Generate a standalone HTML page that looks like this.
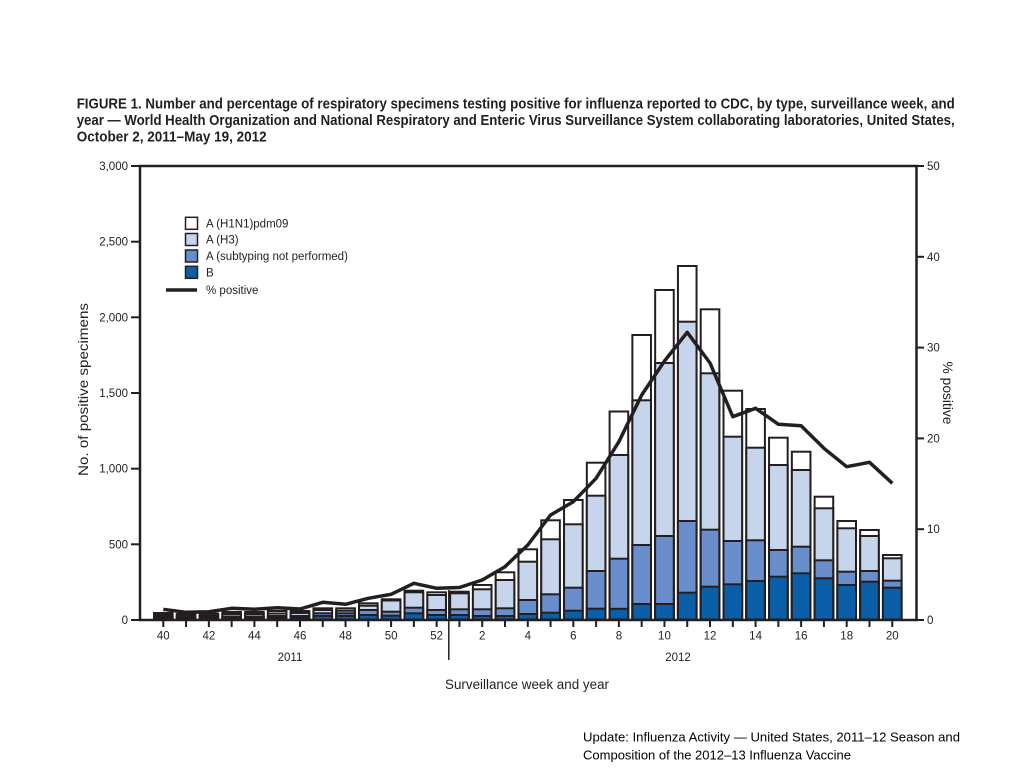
<!DOCTYPE html>
<html>
<head>
<meta charset="utf-8">
<style>
html,body{margin:0;padding:0;background:#fff;}
svg{display:block;}
text{font-family:"Liberation Sans",Arial,sans-serif;fill:#231f20;}
.w{fill:#fff;stroke:#231f20;stroke-width:2;}
.h{fill:#c6d4ec;stroke:#231f20;stroke-width:2;}
.s{fill:#6a8ecb;stroke:#231f20;stroke-width:2;}
.b{fill:#0a5fa8;stroke:#231f20;stroke-width:2;}
.t{font-size:11.5px;}
</style>
</head>
<body>
<svg width="1024" height="768" viewBox="0 0 1024 768" xmlns="http://www.w3.org/2000/svg">
<rect x="0" y="0" width="1024" height="768" fill="#fff"/>

<!-- Title -->
<text x="76.7" y="108.5" font-size="15" font-weight="bold" textLength="878" lengthAdjust="spacingAndGlyphs">FIGURE 1. Number and percentage of respiratory specimens testing positive for influenza reported to CDC, by type, surveillance week, and</text>
<text x="76.7" y="125" font-size="15" font-weight="bold" textLength="878" lengthAdjust="spacingAndGlyphs">year — World Health Organization and National Respiratory and Enteric Virus Surveillance System collaborating laboratories, United States,</text>
<text x="76.7" y="141.5" font-size="15" font-weight="bold" textLength="190" lengthAdjust="spacingAndGlyphs">October 2, 2011–May 19, 2012</text>

<!-- Bars -->
<g>
<rect class="w" x="154.0" y="613" width="18.6" height="6.5"/><rect class="h" x="154.0" y="615" width="18.6" height="4.5"/><rect class="s" x="154.0" y="617" width="18.6" height="2.5"/><rect class="b" x="154.0" y="618" width="18.6" height="1.5"/>
<rect class="w" x="176.78" y="614" width="18.6" height="5.5"/><rect class="h" x="176.78" y="615.5" width="18.6" height="4"/><rect class="s" x="176.78" y="617" width="18.6" height="2.5"/><rect class="b" x="176.78" y="618.3" width="18.6" height="1.2"/>
<rect class="w" x="199.56" y="613.5" width="18.6" height="6"/><rect class="h" x="199.56" y="615.5" width="18.6" height="4"/><rect class="s" x="199.56" y="617" width="18.6" height="2.5"/><rect class="b" x="199.56" y="618.3" width="18.6" height="1.2"/>
<rect class="w" x="222.34" y="612" width="18.6" height="7.5"/><rect class="h" x="222.34" y="614" width="18.6" height="5.5"/><rect class="s" x="222.34" y="616.5" width="18.6" height="3"/><rect class="b" x="222.34" y="618" width="18.6" height="1.5"/>
<rect class="w" x="245.12" y="612" width="18.6" height="7.5"/><rect class="h" x="245.12" y="614" width="18.6" height="5.5"/><rect class="s" x="245.12" y="616.5" width="18.6" height="3"/><rect class="b" x="245.12" y="618" width="18.6" height="1.5"/>
<rect class="w" x="267.9" y="611" width="18.6" height="8.5"/><rect class="h" x="267.9" y="613.5" width="18.6" height="6"/><rect class="s" x="267.9" y="616" width="18.6" height="3.5"/><rect class="b" x="267.9" y="618" width="18.6" height="1.5"/>
<rect class="w" x="290.68" y="611" width="18.6" height="8.5"/><rect class="h" x="290.68" y="613" width="18.6" height="6.5"/><rect class="s" x="290.68" y="616" width="18.6" height="3.5"/><rect class="b" x="290.68" y="618" width="18.6" height="1.5"/>
<rect class="w" x="313.46" y="608.3" width="18.6" height="11.2"/><rect class="h" x="313.46" y="610" width="18.6" height="9.5"/><rect class="s" x="313.46" y="613.3" width="18.6" height="6.2"/><rect class="b" x="313.46" y="616" width="18.6" height="3.5"/>
<rect class="w" x="336.24" y="608.3" width="18.6" height="11.2"/><rect class="h" x="336.24" y="610.7" width="18.6" height="8.8"/><rect class="s" x="336.24" y="613.3" width="18.6" height="6.2"/><rect class="b" x="336.24" y="616" width="18.6" height="3.5"/>
<rect class="w" x="359.02" y="603.3" width="18.6" height="16.2"/><rect class="h" x="359.02" y="605.7" width="18.6" height="13.8"/><rect class="s" x="359.02" y="610" width="18.6" height="9.5"/><rect class="b" x="359.02" y="615" width="18.6" height="4.5"/>
<rect class="w" x="381.8" y="599.3" width="18.6" height="20.2"/><rect class="h" x="381.8" y="600.5" width="18.6" height="19"/><rect class="s" x="381.8" y="611.7" width="18.6" height="7.8"/><rect class="b" x="381.8" y="615.7" width="18.6" height="3.8"/>
<rect class="w" x="404.58" y="590.7" width="18.6" height="28.8"/><rect class="h" x="404.58" y="592.3" width="18.6" height="27.2"/><rect class="s" x="404.58" y="607.7" width="18.6" height="11.8"/><rect class="b" x="404.58" y="613.3" width="18.6" height="6.2"/>
<rect class="w" x="427.36" y="592.3" width="18.6" height="27.2"/><rect class="h" x="427.36" y="595" width="18.6" height="24.5"/><rect class="s" x="427.36" y="610" width="18.6" height="9.5"/><rect class="b" x="427.36" y="615" width="18.6" height="4.5"/>
<rect class="w" x="450.14" y="591.7" width="18.6" height="27.8"/><rect class="h" x="450.14" y="593.3" width="18.6" height="26.2"/><rect class="s" x="450.14" y="609.3" width="18.6" height="10.2"/><rect class="b" x="450.14" y="615" width="18.6" height="4.5"/>
<rect class="w" x="472.92" y="585" width="18.6" height="34.5"/><rect class="h" x="472.92" y="589.3" width="18.6" height="30.2"/><rect class="s" x="472.92" y="609.3" width="18.6" height="10.2"/><rect class="b" x="472.92" y="616" width="18.6" height="3.5"/>
<rect class="w" x="495.7" y="572.3" width="18.6" height="47.2"/><rect class="h" x="495.7" y="580" width="18.6" height="39.5"/><rect class="s" x="495.7" y="608.3" width="18.6" height="11.2"/><rect class="b" x="495.7" y="616" width="18.6" height="3.5"/>
<rect class="w" x="518.48" y="549.3" width="18.6" height="70.2"/><rect class="h" x="518.48" y="561.7" width="18.6" height="57.8"/><rect class="s" x="518.48" y="600" width="18.6" height="19.5"/><rect class="b" x="518.48" y="614" width="18.6" height="5.5"/>
<rect class="w" x="541.26" y="520.3" width="18.6" height="99.2"/><rect class="h" x="541.26" y="539.3" width="18.6" height="80.2"/><rect class="s" x="541.26" y="594.3" width="18.6" height="25.2"/><rect class="b" x="541.26" y="612.7" width="18.6" height="6.8"/>
<rect class="w" x="564.04" y="500" width="18.6" height="119.5"/><rect class="h" x="564.04" y="524.3" width="18.6" height="95.2"/><rect class="s" x="564.04" y="587.7" width="18.6" height="31.8"/><rect class="b" x="564.04" y="610.7" width="18.6" height="8.8"/>
<rect class="w" x="586.82" y="462.7" width="18.6" height="156.8"/><rect class="h" x="586.82" y="495.7" width="18.6" height="123.8"/><rect class="s" x="586.82" y="571" width="18.6" height="48.5"/><rect class="b" x="586.82" y="608.7" width="18.6" height="10.8"/>
<rect class="w" x="609.6" y="411.5" width="18.6" height="208"/><rect class="h" x="609.6" y="455" width="18.6" height="164.5"/><rect class="s" x="609.6" y="558.7" width="18.6" height="60.8"/><rect class="b" x="609.6" y="608.8" width="18.6" height="10.7"/>
<rect class="w" x="632.38" y="335" width="18.6" height="284.5"/><rect class="h" x="632.38" y="400.3" width="18.6" height="219.2"/><rect class="s" x="632.38" y="545" width="18.6" height="74.5"/><rect class="b" x="632.38" y="604" width="18.6" height="15.5"/>
<rect class="w" x="655.16" y="290" width="18.6" height="329.5"/><rect class="h" x="655.16" y="363" width="18.6" height="256.5"/><rect class="s" x="655.16" y="536" width="18.6" height="83.5"/><rect class="b" x="655.16" y="604" width="18.6" height="15.5"/>
<rect class="w" x="677.94" y="266" width="18.6" height="353.5"/><rect class="h" x="677.94" y="321.7" width="18.6" height="297.8"/><rect class="s" x="677.94" y="521" width="18.6" height="98.5"/><rect class="b" x="677.94" y="592.7" width="18.6" height="26.8"/>
<rect class="w" x="700.72" y="309.3" width="18.6" height="310.2"/><rect class="h" x="700.72" y="373.3" width="18.6" height="246.2"/><rect class="s" x="700.72" y="529.7" width="18.6" height="89.8"/><rect class="b" x="700.72" y="586.7" width="18.6" height="32.8"/>
<rect class="w" x="723.5" y="390.7" width="18.6" height="228.8"/><rect class="h" x="723.5" y="436.7" width="18.6" height="182.8"/><rect class="s" x="723.5" y="541" width="18.6" height="78.5"/><rect class="b" x="723.5" y="584.3" width="18.6" height="35.2"/>
<rect class="w" x="746.28" y="409" width="18.6" height="210.5"/><rect class="h" x="746.28" y="447.7" width="18.6" height="171.8"/><rect class="s" x="746.28" y="540.3" width="18.6" height="79.2"/><rect class="b" x="746.28" y="581" width="18.6" height="38.5"/>
<rect class="w" x="769.06" y="437.7" width="18.6" height="181.8"/><rect class="h" x="769.06" y="465" width="18.6" height="154.5"/><rect class="s" x="769.06" y="550" width="18.6" height="69.5"/><rect class="b" x="769.06" y="576.7" width="18.6" height="42.8"/>
<rect class="w" x="791.84" y="451.7" width="18.6" height="167.8"/><rect class="h" x="791.84" y="470" width="18.6" height="149.5"/><rect class="s" x="791.84" y="546.7" width="18.6" height="72.8"/><rect class="b" x="791.84" y="573.3" width="18.6" height="46.2"/>
<rect class="w" x="814.62" y="496.7" width="18.6" height="122.8"/><rect class="h" x="814.62" y="508.3" width="18.6" height="111.2"/><rect class="s" x="814.62" y="560.3" width="18.6" height="59.2"/><rect class="b" x="814.62" y="578.3" width="18.6" height="41.2"/>
<rect class="w" x="837.4" y="521" width="18.6" height="98.5"/><rect class="h" x="837.4" y="528.3" width="18.6" height="91.2"/><rect class="s" x="837.4" y="571.7" width="18.6" height="47.8"/><rect class="b" x="837.4" y="585" width="18.6" height="34.5"/>
<rect class="w" x="860.18" y="530" width="18.6" height="89.5"/><rect class="h" x="860.18" y="536" width="18.6" height="83.5"/><rect class="s" x="860.18" y="571" width="18.6" height="48.5"/><rect class="b" x="860.18" y="581.7" width="18.6" height="37.8"/>
<rect class="w" x="882.96" y="555" width="18.6" height="64.5"/><rect class="h" x="882.96" y="558.3" width="18.6" height="61.2"/><rect class="s" x="882.96" y="580.7" width="18.6" height="38.8"/><rect class="b" x="882.96" y="587.7" width="18.6" height="31.8"/>
</g>

<!-- % positive line -->
<polyline fill="none" stroke="#231f20" stroke-width="3.5" stroke-linejoin="round" points="163.3,609.3 186.1,612.3 208.9,611.7 231.6,608.3 254.4,609.3 277.2,607.7 300,609 322.8,602.3 345.5,604.3 368.3,598.3 391.1,594.3 413.9,583.3 436.7,588.3 459.4,587.5 482.2,580 505,566.7 527.8,545 550.6,515 573.3,501.7 596.1,478.3 618.9,441.7 641.7,395 664.5,361 687.2,332.3 710,363 732.8,416.7 755.6,408.3 778.4,424.3 801.1,425.7 823.9,448.3 846.7,466.7 869.5,462.3 892.3,483.3"/>

<!-- Frame -->
<rect x="140" y="166" width="776.5" height="454" fill="none" stroke="#231f20" stroke-width="2.5"/>

<!-- Left ticks & labels -->
<g stroke="#231f20" stroke-width="2">
<line x1="131" y1="166" x2="140" y2="166"/>
<line x1="131" y1="241.7" x2="140" y2="241.7"/>
<line x1="131" y1="317.3" x2="140" y2="317.3"/>
<line x1="131" y1="393" x2="140" y2="393"/>
<line x1="131" y1="468.7" x2="140" y2="468.7"/>
<line x1="131" y1="544.3" x2="140" y2="544.3"/>
<line x1="131" y1="620" x2="140" y2="620"/>
</g>
<g class="t" text-anchor="end">
<text class="t" x="128" y="170">3,000</text>
<text class="t" x="128" y="245.7">2,500</text>
<text class="t" x="128" y="321.3">2,000</text>
<text class="t" x="128" y="397">1,500</text>
<text class="t" x="128" y="472.7">1,000</text>
<text class="t" x="128" y="548.3">500</text>
<text class="t" x="128" y="624">0</text>
</g>

<!-- Right ticks & labels -->
<g stroke="#231f20" stroke-width="2">
<line x1="916.5" y1="166" x2="924" y2="166"/>
<line x1="916.5" y1="256.8" x2="924" y2="256.8"/>
<line x1="916.5" y1="347.6" x2="924" y2="347.6"/>
<line x1="916.5" y1="438.4" x2="924" y2="438.4"/>
<line x1="916.5" y1="529.2" x2="924" y2="529.2"/>
<line x1="916.5" y1="620" x2="924" y2="620"/>
</g>
<text class="t" x="927" y="170">50</text>
<text class="t" x="927" y="260.8">40</text>
<text class="t" x="927" y="351.6">30</text>
<text class="t" x="927" y="442.4">20</text>
<text class="t" x="927" y="533.2">10</text>
<text class="t" x="927" y="624">0</text>

<!-- Bottom ticks -->
<g stroke="#231f20" stroke-width="2">
<line x1="163.3" y1="620" x2="163.3" y2="627"/><line x1="186.08" y1="620" x2="186.08" y2="627"/><line x1="208.86" y1="620" x2="208.86" y2="627"/><line x1="231.64" y1="620" x2="231.64" y2="627"/><line x1="254.42" y1="620" x2="254.42" y2="627"/><line x1="277.2" y1="620" x2="277.2" y2="627"/><line x1="299.98" y1="620" x2="299.98" y2="627"/><line x1="322.76" y1="620" x2="322.76" y2="627"/><line x1="345.54" y1="620" x2="345.54" y2="627"/><line x1="368.32" y1="620" x2="368.32" y2="627"/><line x1="391.1" y1="620" x2="391.1" y2="627"/><line x1="413.88" y1="620" x2="413.88" y2="627"/><line x1="436.66" y1="620" x2="436.66" y2="627"/><line x1="459.44" y1="620" x2="459.44" y2="627"/><line x1="482.22" y1="620" x2="482.22" y2="627"/><line x1="505" y1="620" x2="505" y2="627"/><line x1="527.78" y1="620" x2="527.78" y2="627"/><line x1="550.56" y1="620" x2="550.56" y2="627"/><line x1="573.34" y1="620" x2="573.34" y2="627"/><line x1="596.12" y1="620" x2="596.12" y2="627"/><line x1="618.9" y1="620" x2="618.9" y2="627"/><line x1="641.68" y1="620" x2="641.68" y2="627"/><line x1="664.46" y1="620" x2="664.46" y2="627"/><line x1="687.24" y1="620" x2="687.24" y2="627"/><line x1="710.02" y1="620" x2="710.02" y2="627"/><line x1="732.8" y1="620" x2="732.8" y2="627"/><line x1="755.58" y1="620" x2="755.58" y2="627"/><line x1="778.36" y1="620" x2="778.36" y2="627"/><line x1="801.14" y1="620" x2="801.14" y2="627"/><line x1="823.92" y1="620" x2="823.92" y2="627"/><line x1="846.7" y1="620" x2="846.7" y2="627"/><line x1="869.48" y1="620" x2="869.48" y2="627"/><line x1="892.26" y1="620" x2="892.26" y2="627"/>
</g>
<!-- year separator -->
<line x1="448.8" y1="590" x2="448.8" y2="660" stroke="#231f20" stroke-width="1.5"/>

<!-- Bottom labels -->
<g text-anchor="middle">
<text class="t" x="163.3" y="639.5">40</text>
<text class="t" x="208.86" y="639.5">42</text>
<text class="t" x="254.42" y="639.5">44</text>
<text class="t" x="299.98" y="639.5">46</text>
<text class="t" x="345.54" y="639.5">48</text>
<text class="t" x="391.1" y="639.5">50</text>
<text class="t" x="436.66" y="639.5">52</text>
<text class="t" x="482.22" y="639.5">2</text>
<text class="t" x="527.78" y="639.5">4</text>
<text class="t" x="573.34" y="639.5">6</text>
<text class="t" x="618.9" y="639.5">8</text>
<text class="t" x="664.46" y="639.5">10</text>
<text class="t" x="710.02" y="639.5">12</text>
<text class="t" x="755.58" y="639.5">14</text>
<text class="t" x="801.14" y="639.5">16</text>
<text class="t" x="846.7" y="639.5">18</text>
<text class="t" x="892.26" y="639.5">20</text>
<text class="t" x="290" y="661">2011</text>
<text class="t" x="678" y="661">2012</text>
</g>
<text x="445" y="689" font-size="13.5" textLength="164" lengthAdjust="spacingAndGlyphs">Surveillance week and year</text>

<!-- Axis titles -->
<text transform="translate(88,389.5) rotate(-90)" text-anchor="middle" font-size="14" textLength="173" lengthAdjust="spacingAndGlyphs">No. of positive specimens</text>
<text transform="translate(943,393) rotate(90)" text-anchor="middle" font-size="13.5" textLength="63" lengthAdjust="spacingAndGlyphs">% positive</text>

<!-- Legend -->
<rect x="185.5" y="217.3" width="12" height="12" fill="#fff" stroke="#231f20" stroke-width="1.5"/>
<rect x="185.5" y="233.5" width="12" height="12" fill="#c6d4ec" stroke="#231f20" stroke-width="1.5"/>
<rect x="185.5" y="250" width="12" height="12" fill="#6a8ecb" stroke="#231f20" stroke-width="1.5"/>
<rect x="185.5" y="266.3" width="12" height="12" fill="#0a5fa8" stroke="#231f20" stroke-width="1.5"/>
<line x1="166" y1="290" x2="197" y2="290" stroke="#231f20" stroke-width="3.5"/>
<text class="t" x="206" y="227.5">A (H1N1)pdm09</text>
<text class="t" x="206" y="243.7">A (H3)</text>
<text class="t" x="206" y="260.2">A (subtyping not performed)</text>
<text class="t" x="206" y="276.5">B</text>
<text class="t" x="206" y="294">% positive</text>

<!-- Footer -->
<text x="583" y="741.5" font-size="13" fill="#000" textLength="377" lengthAdjust="spacingAndGlyphs" style="fill:#000">Update: Influenza Activity — United States, 2011–12 Season and</text>
<text x="583" y="759.5" font-size="13" textLength="268" lengthAdjust="spacingAndGlyphs" style="fill:#000">Composition of the 2012–13 Influenza Vaccine</text>
</svg>
</body>
</html>
